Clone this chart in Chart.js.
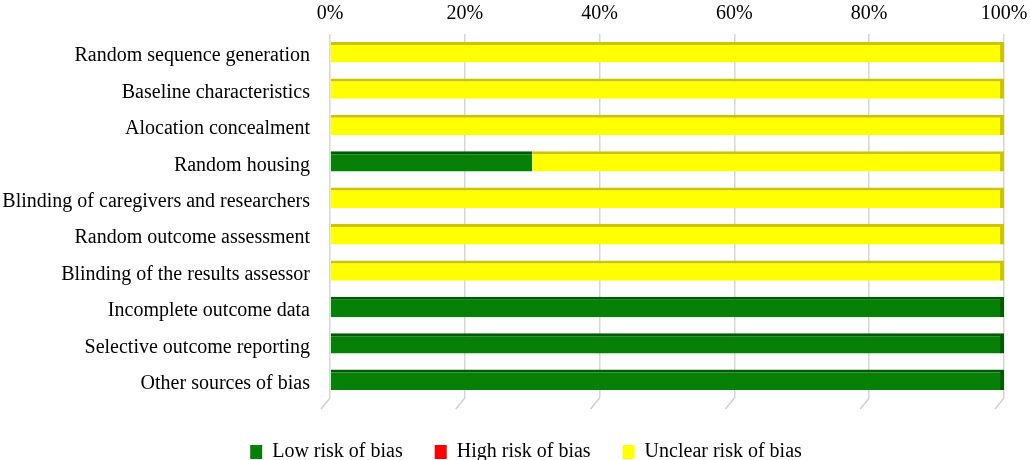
<!DOCTYPE html>
<html>
<head>
<meta charset="utf-8">
<script src="https://cdn.jsdelivr.net/npm/chart.js@4.4.0/dist/chart.umd.min.js"></script>
<style>
  html, body { margin: 0; padding: 0; background: #ffffff; }
  #wrap { width: 1031px; height: 460px; }
</style>
</head>
<body>
<div id="wrap"><canvas id="chart"></canvas></div>
<script>
// risk of bias summary, values in percent
const categories = [
    'Random sequence generation',
    'Baseline characteristics',
    'Alocation concealment',
    'Random housing',
    'Blinding of caregivers and researchers',
    'Random outcome assessment',
    'Blinding of the results assessor',
    'Incomplete outcome data',
    'Selective outcome reporting',
    'Other sources of bias'
];
const lowRisk     = [0, 0, 0, 30, 0, 0, 0, 100, 100, 100];
const highRisk    = [0, 0, 0, 0, 0, 0, 0, 0, 0, 0];
const unclearRisk = [100, 100, 100, 70, 100, 100, 100, 0, 0, 0];
const xTicks = [0, 20, 40, 60, 80, 100];

const serif = '"Liberation Serif", "DejaVu Serif", serif';

// top edge / end cap shade for the fake 3D look
function edgeWidth(ctx) {
    const i = ctx.dataIndex;
    const ds = ctx.datasetIndex;
    const all = [lowRisk, highRisk, unclearRisk];
    let last = true;
    for (let k = ds + 1; k < all.length; k++) {
        if (all[k][i] > 0) last = false;
    }
    return { top: 3, right: last ? 4 : 0, bottom: 0, left: 0 };
}

// little perspective lines under the grid, like the excel floor
const floorLines = {
    id: 'floorLines',
    afterDraw(chart) {
        const c = chart.ctx;
        const x = chart.scales.x;
        const bottom = chart.chartArea.bottom;
        c.save();
        c.strokeStyle = '#d0d0d0';
        c.lineWidth = 1.5;
        xTicks.forEach(v => {
            const px = x.getPixelForValue(v);
            c.beginPath();
            c.moveTo(px, bottom);
            c.lineTo(px - 9, bottom + 11);
            c.stroke();
        });
        c.restore();
    }
};

// legend sits a bit right of the canvas centre in the original
const legendShift = {
    id: 'legendShift',
    afterLayout(chart) {
        chart.legend.left += 24;
        chart.legend.right += 24;
    }
};

new Chart(document.getElementById('chart'), {
    type: 'bar',
    data: {
        labels: categories,
        datasets: [
            {
                label: 'Low risk of bias',
                data: lowRisk,
                backgroundColor: '#068006',
                borderColor: '#005a00',
                borderWidth: edgeWidth,
                borderSkipped: false
            },
            {
                label: 'High risk of bias',
                data: highRisk,
                backgroundColor: '#ff0000',
                borderColor: '#b00000',
                borderWidth: edgeWidth,
                borderSkipped: false
            },
            {
                label: 'Unclear risk of bias',
                data: unclearRisk,
                backgroundColor: '#ffff00',
                borderColor: '#cdc400',
                borderWidth: edgeWidth,
                borderSkipped: false
            }
        ]
    },
    options: {
        indexAxis: 'y',
        responsive: true,
        maintainAspectRatio: false,
        animation: false,
        layout: { padding: { left: 0, right: 27, top: 0, bottom: -12 } },
        datasets: {
            bar: { categoryPercentage: 1, barPercentage: 0.56 }
        },
        scales: {
            x: {
                position: 'top',
                stacked: true,
                min: 0,
                max: 100,
                afterBuildTicks: scale => {
                    scale.ticks = xTicks.map(v => ({ value: v }));
                },
                afterFit: scale => {
                    scale.height = 34;
                    scale.paddingLeft = 0;
                    scale.paddingRight = 0;
                },
                ticks: {
                    color: '#000000',
                    font: { family: serif, size: 20 },
                    padding: 8,
                    callback: v => v + '%'
                },
                grid: { color: '#d6d6d6', lineWidth: 1.5, drawTicks: false },
                border: { display: false }
            },
            y: {
                stacked: true,
                afterFit: scale => { scale.width = 330; },
                ticks: {
                    color: '#000000',
                    font: { family: serif, size: 20 },
                    padding: 12,
                    labelOffset: 4
                },
                grid: { display: false },
                border: { display: false }
            }
        },
        plugins: {
            legend: {
                position: 'bottom',
                title: { display: true, text: '', padding: 0, font: { size: 10 } },
                labels: {
                    color: '#000000',
                    font: { family: serif, size: 20 },
                    boxWidth: 12,
                    boxHeight: 14,
                    padding: 32,
                    generateLabels: chart => chart.data.datasets.map((d, i) => ({
                        text: d.label,
                        fillStyle: d.backgroundColor,
                        strokeStyle: d.backgroundColor,
                        lineWidth: 0,
                        datasetIndex: i,
                        hidden: false,
                        fontColor: '#000000'
                    }))
                }
            },
            tooltip: { enabled: false }
        }
    },
    plugins: [floorLines, legendShift]
});
</script>
</body>
</html>
